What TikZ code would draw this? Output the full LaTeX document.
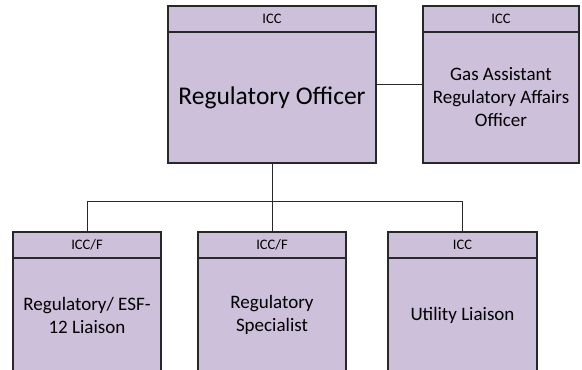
\documentclass[tikz,border=0pt]{standalone}
\usepackage{fontspec}
\setmainfont{Carlito}
\definecolor{boxfill}{RGB}{204,192,218}
\definecolor{boxline}{RGB}{40,40,40}
\tikzset{unit/.style = {shape=rectangle,draw=boxline,fill=boxfill,line width=1.2pt,inner sep=0pt}}
\tikzset{hdr/.style = {shape=rectangle,draw=boxline,line width=1.2pt,inner sep=0pt,minimum height=26pt,anchor=north,font=\fontsize{14.5}{16}\selectfont}}
\tikzset{role/.style = {align=center,font=\fontsize{19}{23}\selectfont}}
\tikzset{link/.style = {draw=boxline,line width=0.9pt}}

\begin{document}
\begin{tikzpicture}[x=1pt,y=-1pt]
          \useasboundingbox (0,0) rectangle (582,370);
          \clip (0,0) rectangle (582,370);
          \node[unit, minimum width=208pt, minimum height=157pt] (RO) at (272,84.5) {};
          \node[unit, minimum width=156pt, minimum height=157pt] (GA) at (501,84.5) {};
          \node[unit, minimum width=148pt, minimum height=142pt] (RE) at (87,303) {};
          \node[unit, minimum width=148pt, minimum height=142pt] (RS) at (272,303) {};
          \node[unit, minimum width=149pt, minimum height=142pt] (UL) at (462.5,303) {};

          \node[hdr, minimum width=208pt] (ROh) at (RO.north) {ICC};
          \node[hdr, minimum width=156pt] (GAh) at (GA.north) {ICC};
          \node[hdr, minimum width=148pt] (REh) at (RE.north) {ICC/F};
          \node[hdr, minimum width=148pt] (RSh) at (RS.north) {ICC/F};
          \node[hdr, minimum width=149pt] (ULh) at (UL.north) {ICC};

          \node[role, font=\fontsize{25.5}{28}\selectfont] (ROt) at (272,97.5) {Regulatory Officer};
          \node[role] (GAt) at (501,97.5) {Gas Assistant\\Regulatory Affairs\\Officer};
          \node[role] (REt) at (87,315) {Regulatory/ ESF-\\12 Liaison};
          \node[role] (RSt) at (272,315) {Regulatory\\Specialist};
          \node[role] (ULt) at (462.5,315) {Utility Liaison};

          \coordinate (bus) at (272,201);
          \path[link] (RO) -- (GA);
          \path[link] (RO) -- (bus);
          \path[link] (bus) -| (RE);
          \path[link] (bus) -- (RS);
          \path[link] (bus) -| (UL);
        \end{tikzpicture}
\end{document}
